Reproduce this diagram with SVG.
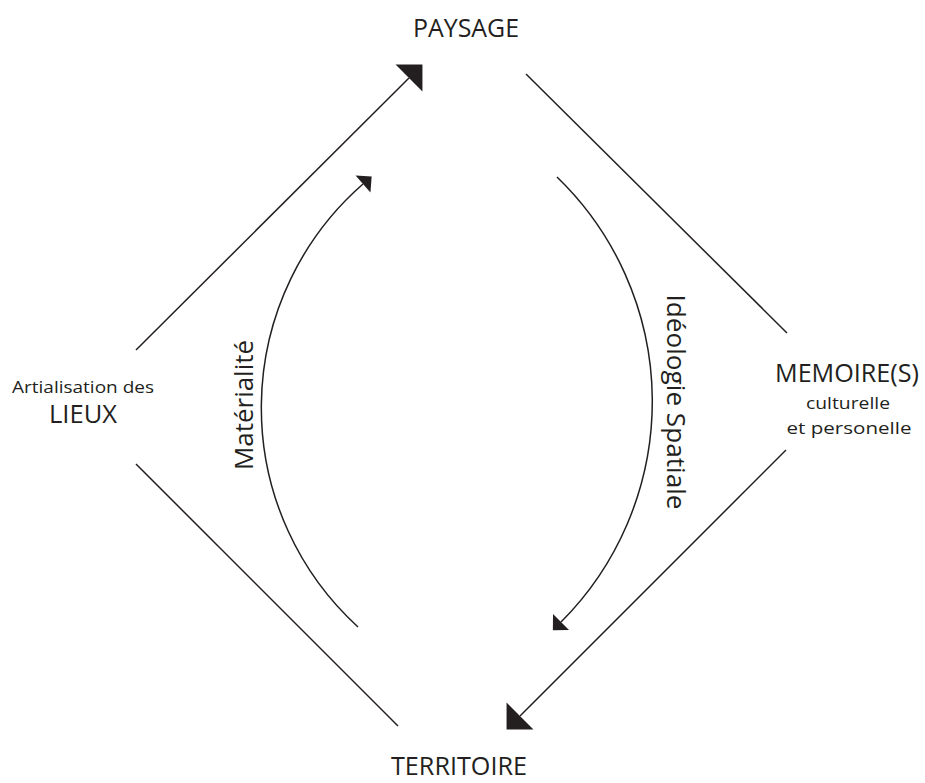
<svg xmlns="http://www.w3.org/2000/svg" width="925" height="783" viewBox="0 0 925 783">
  <style>
    text { font-family: "Open Sans", "Noto Sans", "Liberation Sans", sans-serif; fill: #231f20; text-anchor: middle; }
    .big { font-size: 26px; }
    .small { font-size: 17px; }
    .edge { fill: none; stroke: #231f20; stroke-width: 1.5; }
  </style>
  <defs>
    <marker id="bigArrow" markerUnits="userSpaceOnUse" viewBox="0 -20 20 40" refX="0" refY="0" markerWidth="20" markerHeight="40" orient="auto" overflow="visible">
      <path d="M0,-19 L19,0 L0,19 Z" fill="#231f20"/>
    </marker>
    <marker id="smallArrow" markerUnits="userSpaceOnUse" viewBox="0 -12 12 24" refX="0" refY="0" markerWidth="12" markerHeight="24" orient="auto" overflow="visible">
      <path d="M0,-11.3 L11.5,0 L0,11.3 Z" fill="#231f20"/>
    </marker>
  </defs>
  <rect width="925" height="783" fill="#ffffff"/>

  <g id="paysage">
    <text class="big" x="466" y="37" textLength="106" lengthAdjust="spacingAndGlyphs">PAYSAGE</text>
  </g>
  <g id="territoire">
    <text class="big" x="459" y="775" style="font-size:25px" textLength="136" lengthAdjust="spacingAndGlyphs">TERRITOIRE</text>
  </g>
  <g id="lieux">
    <text class="small" x="83" y="393" textLength="142" lengthAdjust="spacingAndGlyphs">Artialisation des</text>
    <text class="big" x="83" y="423" textLength="68" lengthAdjust="spacingAndGlyphs">LIEUX</text>
  </g>
  <g id="memoires">
    <text class="big" x="847" y="382" textLength="144" lengthAdjust="spacingAndGlyphs">MEMOIRE(S)</text>
    <text class="small" x="848" y="409" textLength="84" lengthAdjust="spacingAndGlyphs">culturelle</text>
    <text class="small" x="849" y="434" textLength="125" lengthAdjust="spacingAndGlyphs">et personelle</text>
  </g>

  <g id="connectors">
    <line class="edge" x1="136" y1="350" x2="409" y2="78" marker-end="url(#bigArrow)"/>
    <line class="edge" x1="526" y1="74" x2="787" y2="333"/>
    <line class="edge" x1="786" y1="450" x2="520" y2="716" marker-end="url(#bigArrow)"/>
    <line class="edge" x1="136" y1="464" x2="398" y2="726"/>
    <path class="edge" d="M358,627 A297,297 0 0 1 363,184" marker-end="url(#smallArrow)"/>
    <path class="edge" d="M557,177 A312,312 0 0 1 561,622" marker-end="url(#smallArrow)"/>
    <text class="big" transform="translate(253,405) rotate(-90)" x="0" y="0" textLength="130" lengthAdjust="spacingAndGlyphs">Matérialité</text>
    <text class="big" transform="translate(667,402) rotate(90)" x="0" y="0" textLength="215" lengthAdjust="spacingAndGlyphs">Idéologie Spatiale</text>
  </g>
</svg>
